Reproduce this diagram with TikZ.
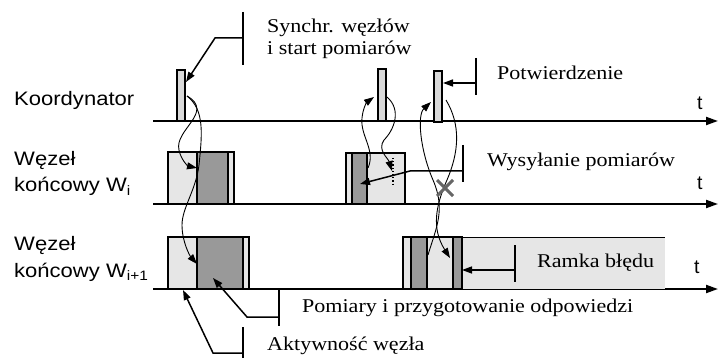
\documentclass[tikz,border=0pt]{standalone}
\usepackage{fontspec}
\setmainfont{Liberation Serif}
\newfontfamily\arialf{Liberation Sans}
\usetikzlibrary{arrows.meta}
\definecolor{lgray}{HTML}{E6E6E6}
\definecolor{dgray}{HTML}{999999}
\definecolor{bgray}{HTML}{D9D9D9}
\definecolor{xgray}{HTML}{666666}
\newcommand\sx[1]{\scalebox{1.13}[1]{#1}}
\begin{document}
\begin{tikzpicture}[x=1pt,y=-1pt,
 axis/.style={line width=2pt,-{Triangle[length=12pt,width=8pt]}},
 lbl/.style={anchor=base west,inner sep=0pt,font=\fontsize{19.5}{22}\selectfont},
 slbl/.style={anchor=base west,inner sep=0pt,font=\arialf\fontsize{19.5}{22}\selectfont},
 blk/.style={draw,line width=1.5pt},
 bar/.style={draw,line width=1.5pt,fill=bgray},
 msg/.style={line width=0.9pt,-{Triangle[length=10pt,width=7pt]}},
 call/.style={line width=1.5pt},
 callarr/.style={line width=1.5pt,-{Triangle[length=10pt,width=7pt]}},
]
\useasboundingbox (0,0) rectangle (720,358);

% axes
\coordinate (a0s) at (153,121); \coordinate (a0e) at (718,121);
\coordinate (a1s) at (153,204); \coordinate (a1e) at (718,204);
\coordinate (a2s) at (153,289); \coordinate (a2e) at (718,289);
\draw[axis] (a0s) -- (a0e);
\draw[axis] (a1s) -- (a1e);
\draw[axis] (a2s) -- (a2e);

% error frame
\fill[lgray] (462,237) rectangle (665,289);
\draw[line width=0.8pt] (462,237) -- (665,237);

% blocks W_i
\filldraw[blk,fill=lgray] (168,152) rectangle (197,204);
\filldraw[blk,fill=dgray] (197,152) rectangle (228,204);
\filldraw[blk,fill=lgray] (228,152) rectangle (234,204);
\filldraw[blk,fill=lgray] (346,153) rectangle (352,204);
\filldraw[blk,fill=dgray] (352,153) rectangle (367,204);
\filldraw[blk,fill=lgray] (367,153) rectangle (405,204);
\draw[dotted,line width=1.2pt] (393,158) -- (393,186);

% blocks W_{i+1}
\filldraw[blk,fill=lgray] (168,237) rectangle (197,289);
\filldraw[blk,fill=dgray] (197,237) rectangle (243,289);
\filldraw[blk,fill=lgray] (243,237) rectangle (249,289);
\filldraw[blk,fill=lgray] (403,237) rectangle (411,289);
\filldraw[blk,fill=dgray] (411,237) rectangle (427,289);
\filldraw[blk,fill=lgray] (427,237) rectangle (453,289);
\filldraw[blk,fill=dgray] (453,237) rectangle (462,289);

% coordinator bars
\filldraw[bar] (177,70) rectangle (185,121);
\filldraw[bar] (378,69) rectangle (386,121);
\filldraw[bar] (434,71) rectangle (442,122);

% message curves
\coordinate (b1r) at (187,96);
\coordinate (wA) at (197,168);
\coordinate (wC) at (197,264);
\draw[msg] (b1r) .. controls (215,112) and (174,130) .. (179,150) .. controls (181,160) and (188,166) .. (wA);
\draw[msg] (b1r) .. controls (205,110) and (202,135) .. (199,165) .. controls (196,190) and (182,208) .. (182,225) .. controls (182,242) and (190,256) .. (wC);

\coordinate (wB) at (368,168);
\coordinate (b2l) at (374,97);
\coordinate (b2r) at (387,97);
\coordinate (wBd) at (392,171);
\draw[msg] (wB) .. controls (376,150) and (360,136) .. (362,118) .. controls (363,108) and (367,102) .. (b2l);
\draw[msg] (b2r) .. controls (402,110) and (394,130) .. (384,140) .. controls (377,150) and (388,158) .. (wBd);

\coordinate (wD) at (428,255);
\coordinate (b3l) at (431,102);
\coordinate (b3r) at (446,100);
\coordinate (wD2) at (450,258);
\draw[msg] (wD) .. controls (436,228) and (446,210) .. (433,180) .. controls (420,150) and (417,115) .. (b3l);
\draw[msg] (b3r) .. controls (461,125) and (459,152) .. (447,180) .. controls (436,205) and (431,228) .. (wD2);

% X mark
\coordinate (xc) at (445,188);
\draw[xgray,line width=3pt] ([shift={(-8,-8)}]xc) -- ([shift={(8,8)}]xc);
\draw[xgray,line width=3pt] ([shift={(-8,8)}]xc) -- ([shift={(8,-8)}]xc);

% callouts
\draw[call] (243,12) -- (243,65);
\draw[callarr] (243,38) -- (215,38) -- (186,82);
\draw[call] (476,58) -- (476,95);
\draw[callarr] (476,83) -- (443,83);
\draw[call] (463,145) -- (463,182);
\draw[callarr] (463,171) -- (410,171) -- (360,184);
\draw[call] (515,245) -- (515,282);
\draw[callarr] (515,270) -- (462,270);
\draw[call] (279,290) -- (279,326);
\draw[callarr] (279,317) -- (247,317) -- (213,278);
\draw[call] (243,327) -- (243,358);
\draw[callarr] (243,353) -- (213,353) -- (183,290);

% labels
\node[slbl] (koord) at (14,106) {\sx{Koordynator}};
\node[slbl] (w1a) at (14,166) {\sx{Węzeł}};
\node[slbl] (w1b) at (14,192) {\sx{końcowy W\textsubscript{i}}};
\node[slbl] (w2a) at (14,251) {\sx{Węzeł}};
\node[slbl] (w2b) at (14,277) {\sx{końcowy W\textsubscript{i+1}}};
\node[slbl] (t0) at (697,110) {t};
\node[slbl] (t1) at (697,190) {t};
\node[slbl] (t2) at (694,273) {t};

\node[lbl] (syn1) at (267,33) {\sx{Synchr. węzłów}};
\node[lbl] (syn2) at (267,55) {\sx{i start pomiarów}};
\node[lbl] (pot) at (497,80) {\sx{Potwierdzenie}};
\node[lbl] (wys) at (487,167) {\sx{Wysyłanie pomiarów}};
\node[lbl] (ram) at (537,267) {\sx{Ramka błędu}};
\node[lbl] (pom) at (302,312) {\sx{Pomiary i przygotowanie odpowiedzi}};
\node[lbl] (akt) at (267,350) {\sx{Aktywność węzła}};
\end{tikzpicture}
\end{document}
